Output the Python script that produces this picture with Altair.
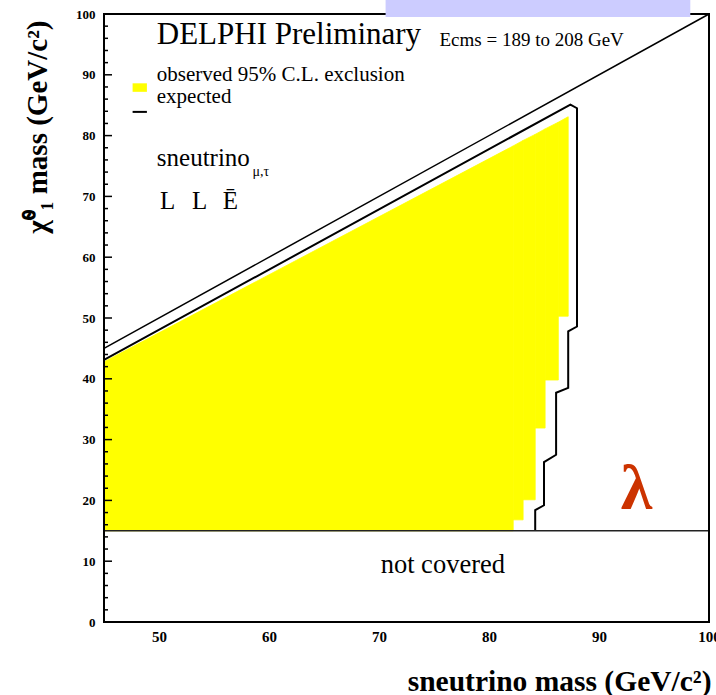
import altair as alt
import pandas as pd

# ---- data -------------------------------------------------------------
# Observed 95% C.L. excluded region, split into vertical bands of sneutrino
# mass. In each band the region spans from a lower neutralino-mass edge
# (the staircase limit) up to the upper boundary near the kinematic limit.
obs_band = [0, 0, 1, 1, 2, 2, 3, 3, 4, 4, 5, 5]
obs_snu = [45.0, 82.2, 82.2, 83.1, 83.1, 84.2, 84.2, 85.1, 85.1, 86.3, 86.3, 87.2]
obs_chi_low = [15.0, 15.0, 16.8, 16.8, 20.1, 20.1, 31.9, 31.9, 39.8, 39.8, 50.3, 50.3]
obs_chi_high = [42.8, 78.3, 78.3, 79.2, 79.2, 80.2, 80.2, 81.1, 81.1, 82.2, 82.2, 83.1]

# Expected exclusion contour
exp_snu = [45.0, 87.4, 88.0, 88.0, 87.2, 87.2, 86.1, 86.1, 85.0, 85.0, 84.2, 84.2]
exp_chi = [43.1, 85.1, 84.5, 48.6, 47.8, 38.5, 37.7, 27.5, 26.3, 19.2, 18.4, 15.0]

# Kinematic limit m(chi) = m(sneutrino)
kin_snu = [45.0, 100.0]
kin_chi = [45.0, 100.0]

# Lower edge of the covered region
covered_min = 15.0

x_ticks = [50, 60, 70, 80, 90, 100]
y_ticks = [0, 10, 20, 30, 40, 50, 60, 70, 80, 90, 100]
y_minor = [v for v in range(0, 101, 2) if v % 10 != 0]

X_DOMAIN = [45, 100]
Y_DOMAIN = [0, 100]

SERIF = "Liberation Serif"
YELLOW = "#ffff00"

# ---- shared scales / axes --------------------------------------------
xscale = alt.Scale(domain=X_DOMAIN, nice=False, zero=False)
yscale = alt.Scale(domain=Y_DOMAIN, nice=False, zero=False)

xaxis = alt.Axis(
    values=x_ticks, ticks=False, domain=False, grid=False, tickSize=0,
    labelFont=SERIF, labelFontWeight="bold", labelFontSize=15, labelColor="black",
    labelPadding=7, labelFlush=False, labelOverlap=False,
    title="sneutrino mass (GeV/c\u00b2)", titleFont=SERIF, titleFontWeight="bold",
    titleFontSize=29.5, titleColor="black", titleAnchor="end", titleAlign="right",
    titleX=607, titleY=59, titleBaseline="middle",
)
yaxis = alt.Axis(
    values=y_ticks, ticks=False, domain=False, grid=False, tickSize=0,
    labelFont=SERIF, labelFontWeight="bold", labelFontSize=13, labelColor="black",
    labelPadding=9, labelFlush=False, labelOverlap=False,
    title="\u03c7\u0303\u2070\u2081 mass (GeV/c\u00b2)", titleFont=SERIF,
    titleFontWeight="bold", titleFontSize=29, titleColor="black",
    titleAngle=270, titleAlign="right", titleBaseline="middle",
    titleX=-67, titleY=6,
)


def X(field):
    return alt.X(field, type="quantitative", scale=xscale, axis=xaxis)


def Y(field):
    return alt.Y(field, type="quantitative", scale=yscale, axis=yaxis)


# ---- layers -------------------------------------------------------------
obs_df = pd.DataFrame({
    "band": obs_band, "snu": obs_snu, "lo": obs_chi_low, "hi": obs_chi_high,
})
observed = alt.Chart(obs_df).mark_area(
    color=YELLOW, opacity=1, stroke=YELLOW, strokeWidth=0.8
).encode(
    x=X("snu"), y=Y("lo"), y2="hi:Q", detail="band:N"
)

exp_df = pd.DataFrame({"i": list(range(len(exp_snu))), "snu": exp_snu, "chi": exp_chi})
expected = alt.Chart(exp_df).mark_line(color="black", strokeWidth=2).encode(
    x=X("snu"), y=Y("chi"), order=alt.Order("i:Q")
)

kin_df = pd.DataFrame({"snu": kin_snu, "chi": kin_chi})
kinematic = alt.Chart(kin_df).mark_line(color="black", strokeWidth=1.5).encode(
    x=X("snu"), y=Y("chi")
)

edge_df = pd.DataFrame({"a": [X_DOMAIN[0]], "b": [X_DOMAIN[1]], "chi": [covered_min]})
edge = alt.Chart(edge_df).mark_rule(color="#222222", strokeWidth=1.6).encode(
    x=X("a"), x2="b:Q", y=Y("chi")
)

# inward-pointing ticks on the left axis
major_df = pd.DataFrame({"v": y_ticks, "x0": [X_DOMAIN[0]] * len(y_ticks)})
minor_df = pd.DataFrame({"v": y_minor, "x0": [X_DOMAIN[0]] * len(y_minor)})
major_ticks = alt.Chart(major_df).mark_rule(
    color="black", strokeWidth=1.5, x2Offset=8
).encode(x=X("x0"), x2="x0:Q", y=Y("v"))
minor_ticks = alt.Chart(minor_df).mark_rule(
    color="black", strokeWidth=1.5, x2Offset=4
).encode(x=X("x0"), x2="x0:Q", y=Y("v"))

frame_df = pd.DataFrame({"x0": [X_DOMAIN[0]], "x1": [X_DOMAIN[1]],
                         "y0": [Y_DOMAIN[0]], "y1": [Y_DOMAIN[1]]})
frame = alt.Chart(frame_df).mark_rect(
    filled=False, stroke="black", strokeWidth=2
).encode(x=X("x0"), x2="x1:Q", y=Y("y0"), y2="y1:Q")

# banner strip across the top edge
banner_df = pd.DataFrame({"x0": [70.6], "x1": [98.3], "y0": [99.5], "y1": [102.3]})
banner = alt.Chart(banner_df).mark_rect(color="#ccccff").encode(
    x=X("x0"), x2="x1:Q", y=Y("y0"), y2="y1:Q"
)

# legend symbols
leg_box_df = pd.DataFrame({"x0": [47.6], "x1": [48.9], "y0": [87.2], "y1": [88.6]})
leg_box = alt.Chart(leg_box_df).mark_rect(color=YELLOW).encode(
    x=X("x0"), x2="x1:Q", y=Y("y0"), y2="y1:Q"
)
leg_line_df = pd.DataFrame({"x0": [47.6], "x1": [48.9], "y": [83.9]})
leg_line = alt.Chart(leg_line_df).mark_rule(color="black", strokeWidth=2).encode(
    x=X("x0"), x2="x1:Q", y=Y("y")
)


def label(text, x, y, **style):
    df = pd.DataFrame({"x": [x], "y": [y], "t": [text]})
    params = dict(font=SERIF, color="black", align="left", baseline="middle")
    params.update(style)
    return alt.Chart(df).mark_text(**params).encode(x=X("x"), y=Y("y"), text="t:N")


texts = [
    label("DELPHI Preliminary", 49.8, 96.5, fontSize=31),
    label("Ecms = 189 to 208 GeV", 75.5, 95.8, fontSize=19),
    label("observed 95% C.L. exclusion", 49.8, 90.0, fontSize=21),
    label("expected", 49.8, 86.3, fontSize=21),
    label("sneutrino", 49.8, 76.3, fontSize=25),
    label("\u03bc,\u03c4", 58.5, 74.0, fontSize=14),
    label("L", 50.1, 69.3, fontSize=25),
    label("L", 53.0, 69.3, fontSize=25),
    label("\u0112", 55.8, 69.3, fontSize=25),
    label("not covered", 75.8, 9.4, fontSize=26.5, align="center"),
    label("\u03bb", 93.4, 21.7, fontSize=64, fontWeight="bold", color="#cc3300",
          align="center"),
]

chart = alt.layer(
    observed, expected, kinematic, edge, minor_ticks, major_ticks,
    frame, banner, leg_box, leg_line, *texts
).properties(
    width=605, height=608,
    autosize=alt.AutoSizeParams(type="none"),
    padding={"left": 104, "top": 14, "right": 7, "bottom": 73},
    background="white",
).configure_view(stroke="transparent")

chart.save("out.html", embed_options={"renderer": "svg", "actions": False})
